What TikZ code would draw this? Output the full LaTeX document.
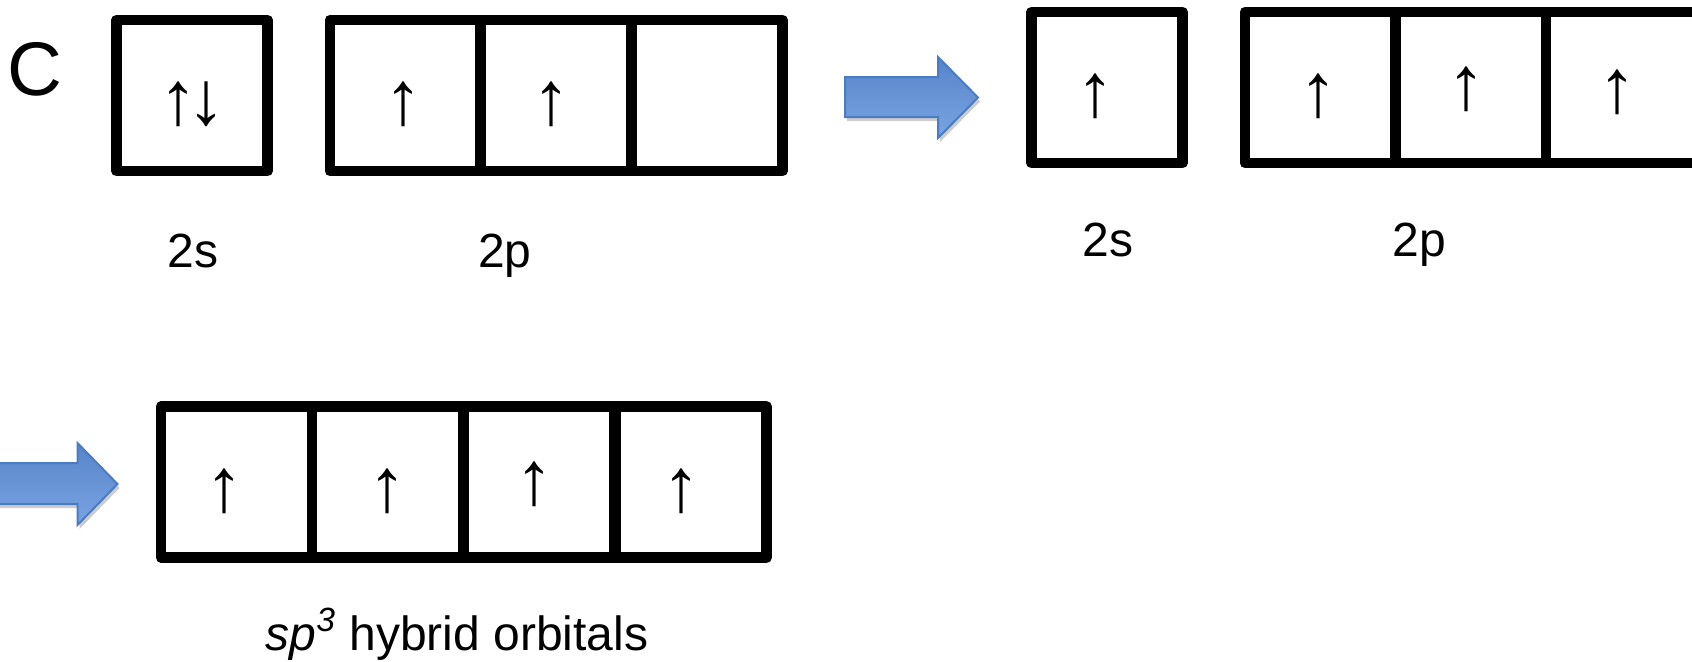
\documentclass[tikz,border=0pt]{standalone}
\usepackage{fontspec}
\setmainfont{Liberation Sans}
\usetikzlibrary{shadows}
\definecolor{arrowline}{HTML}{4A7CC4}
\definecolor{arrowtop}{HTML}{5784CA}
\definecolor{arrowmid}{HTML}{3D6AB3}
\definecolor{arrowbot}{HTML}{7AA4E2}
\begin{document}
\begin{tikzpicture}[x=0.5pt,y=-0.5pt,
  orb/.style={draw=black, line width=5.4pt, fill=white, line join=round,
    minimum width=75.5pt, minimum height=75.5pt, inner sep=0pt, outer sep=0pt,
    drop shadow={shadow xshift=0.6pt, shadow yshift=-2pt, opacity=0.18, fill=black}},
  spin/.style={font=\fontsize{38pt}{40pt}\selectfont, inner sep=0pt},
  lbl/.style={font=\fontsize{24pt}{28pt}\selectfont, anchor=base, inner sep=0pt},
  bigarrow/.style={draw=arrowline, line width=1pt, top color=arrowtop,
    middle color=arrowmid, bottom color=arrowbot,
    drop shadow={shadow xshift=1pt, shadow yshift=-2pt, opacity=0.2, fill=black}}]
\useasboundingbox (0,0) rectangle (1692,661);
\clip (0,0) rectangle (1692,661);

% row 1: ground state
\node[font=\fontsize{38pt}{40pt}\selectfont, anchor=base, inner sep=0pt] (C) at (35,95) {C};
\node[orb] (s1) at (192,95.5) {};
\node[orb] (p1a) at (405.5,95.5) {};
\node[orb] (p1b) at (556,95.5) {};
\node[orb] (p1c) at (707,95.5) {};
\node[spin] (e1) at (192,104) {↑\kern-5pt↓};
\node[spin] (e2) at (403,104) {↑};
\node[spin] (e3) at (551,104) {↑};
\node[lbl] (l2s1) at (193,267) {2s};
\node[lbl] (l2p1) at (505,267) {2p};

% arrow 1
\path[bigarrow] (845,77) -- (938,77) -- (938,57) -- (978,97.5) -- (938,138) -- (938,117) -- (845,117) -- cycle;

% row 2: promoted state
\node[orb] (s2) at (1107,87.5) {};
\node[orb] (p2a) at (1320.5,87.5) {};
\node[orb] (p2b) at (1471,87.5) {};
\node[orb] (p2c) at (1621.5,87.5) {};
\node[spin] (f1) at (1095,96.5) {↑};
\node[spin] (f2) at (1318,96.5) {↑};
\node[spin] (f3) at (1466,89.5) {↑};
\node[spin] (f4) at (1617,92.5) {↑};
\node[lbl] (l2s2) at (1108,256) {2s};
\node[lbl] (l2p2) at (1419,256) {2p};

% arrow 2
\path[bigarrow] (-15,463) -- (77.5,463) -- (77.5,443) -- (117.5,484) -- (77.5,525) -- (77.5,504) -- (-15,504) -- cycle;

% row 3: hybrid orbitals
\node[orb] (h1) at (236.5,482) {};
\node[orb] (h2) at (387.5,482) {};
\node[orb] (h3) at (539,482) {};
\node[orb] (h4) at (691,482) {};
\node[spin] (g1) at (224,491) {↑};
\node[spin] (g2) at (387,491) {↑};
\node[spin] (g3) at (534.5,484) {↑};
\node[spin] (g4) at (681,491) {↑};
\node[lbl, font=\fontsize{24pt}{28pt}\selectfont] (lsp3) at (457,650) {\textit{sp}\textsuperscript{\textit{3}} hybrid orbitals};
\end{tikzpicture}
\end{document}
